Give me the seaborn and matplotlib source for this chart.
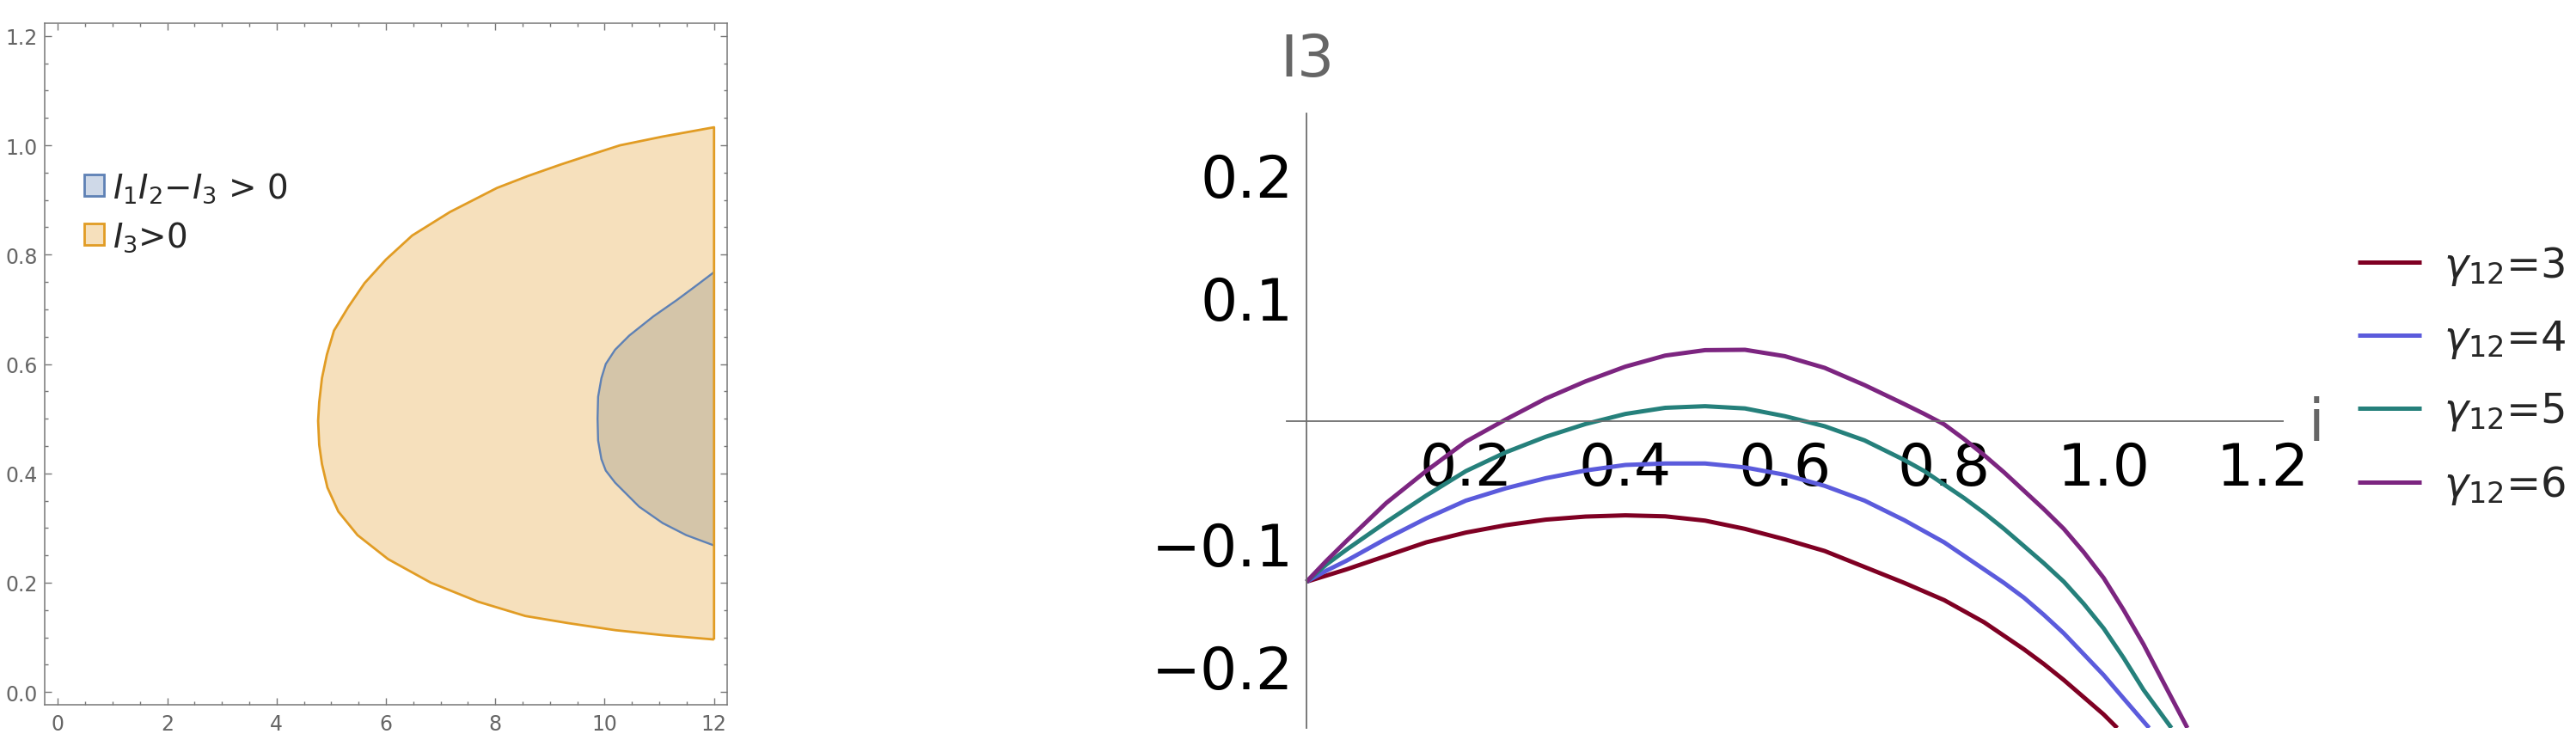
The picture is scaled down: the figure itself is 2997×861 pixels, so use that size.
import numpy as np
import pandas as pd
import matplotlib
matplotlib.use("Agg")
import matplotlib.pyplot as plt
from matplotlib.patches import Patch
import seaborn as sns

# ---------------- data: left panel (gamma12 on x, i on y) ----------------
orange_x = [12.0, 11.06, 10.20, 9.33, 8.55, 7.69, 6.82, 6.04, 5.48, 5.13, 4.93, 4.83, 4.78, 4.76,
            4.78, 4.83, 4.92, 5.05, 5.31, 5.61, 6.00, 6.48, 7.17, 8.03, 8.60, 9.20, 9.75, 10.28,
            11.06, 12.0]
orange_y = [0.096, 0.104, 0.113, 0.126, 0.139, 0.165, 0.200, 0.243, 0.287, 0.330, 0.374, 0.417, 0.452,
            0.496, 0.530, 0.574, 0.617, 0.661, 0.704, 0.748, 0.791, 0.835, 0.878, 0.922, 0.944, 0.965,
            0.983, 1.000, 1.016, 1.033]
blue_x = [12.0, 11.49, 11.06, 10.63, 10.19, 10.02, 9.94, 9.88, 9.87, 9.88, 9.94, 10.02, 10.19,
          10.45, 10.89, 11.32, 11.67, 12.0]
blue_y = [0.268, 0.287, 0.309, 0.339, 0.383, 0.405, 0.426, 0.460, 0.500, 0.540, 0.574, 0.600, 0.626,
          0.652, 0.687, 0.717, 0.743, 0.768]
left_labels = [r'$I_1I_2{-}I_3$ > 0', r'$I_3$>0']
left_xticks = [0, 2, 4, 6, 8, 10, 12]
left_xticklabels = ["0", "2", "4", "6", "8", "10", "12"]
left_yticks = [0.0, 0.2, 0.4, 0.6, 0.8, 1.0, 1.2]
left_yticklabels = ["0.0", "0.2", "0.4", "0.6", "0.8", "1.0", "1.2"]

# ---------------- data: right panel, I3 versus i ----------------
i_g3 = [0.0, 0.025, 0.05, 0.1, 0.15, 0.2, 0.25, 0.3, 0.35, 0.4, 0.45, 0.5, 0.55, 0.6, 0.65, 0.7,
        0.75, 0.775, 0.8, 0.825, 0.85, 0.875, 0.9, 0.925, 0.95, 0.975, 1.0, 1.017]
I3_g3 = [-0.131, -0.126, -0.121, -0.110, -0.099, -0.091, -0.085, -0.0805, -0.078, -0.077, -0.0778,
         -0.0813, -0.088, -0.0965, -0.106, -0.119, -0.132, -0.139, -0.146, -0.155, -0.164, -0.175,
         -0.186, -0.198, -0.211, -0.225, -0.239, -0.25]
i_g4 = [0.0, 0.025, 0.05, 0.1, 0.15, 0.2, 0.25, 0.3, 0.35, 0.4, 0.45, 0.5, 0.55, 0.6, 0.65, 0.7,
        0.75, 0.775, 0.8, 0.825, 0.85, 0.875, 0.9, 0.925, 0.95, 0.975, 1.0, 1.025, 1.057]
I3_g4 = [-0.131, -0.122, -0.114, -0.096, -0.0795, -0.065, -0.055, -0.0468, -0.0405, -0.036, -0.0348,
         -0.0348, -0.038, -0.044, -0.053, -0.065, -0.081, -0.090, -0.099, -0.110, -0.121, -0.132,
         -0.144, -0.158, -0.173, -0.190, -0.207, -0.226, -0.25]
i_g5 = [0.0, 0.025, 0.05, 0.1, 0.15, 0.2, 0.25, 0.3, 0.35, 0.4, 0.45, 0.5, 0.55, 0.6, 0.65, 0.7,
        0.75, 0.775, 0.8, 0.825, 0.85, 0.875, 0.9, 0.925, 0.95, 0.975, 1.0, 1.025, 1.05, 1.085]
I3_g5 = [-0.131, -0.117, -0.105, -0.0825, -0.061, -0.041, -0.0257, -0.0131, -0.0027, 0.0055, 0.0105,
         0.0118, 0.0100, 0.0037, -0.0045, -0.016, -0.032, -0.041, -0.052, -0.063, -0.075, -0.088,
         -0.102, -0.116, -0.131, -0.149, -0.169, -0.193, -0.219, -0.25]
i_g6 = [0.0, 0.025, 0.05, 0.1, 0.15, 0.2, 0.25, 0.3, 0.35, 0.4, 0.45, 0.5, 0.55, 0.6, 0.65, 0.7,
        0.75, 0.775, 0.8, 0.825, 0.85, 0.875, 0.9, 0.925, 0.95, 0.975, 1.0, 1.025, 1.05, 1.075, 1.105]
I3_g6 = [-0.131, -0.114, -0.098, -0.067, -0.041, -0.017, 0.001, 0.018, 0.032, 0.044, 0.053, 0.0574,
         0.0577, 0.0525, 0.043, 0.029, 0.0135, 0.0055, -0.003, -0.015, -0.028, -0.042, -0.057,
         -0.072, -0.088, -0.107, -0.128, -0.154, -0.182, -0.213, -0.25]
series_labels = [r'$\gamma_{12}$=3', r'$\gamma_{12}$=4', r'$\gamma_{12}$=5', r'$\gamma_{12}$=6']
series_colors = ['#7F0023', '#5B5BDC', '#25807B', '#7C2580']
right_xticks = [0.2, 0.4, 0.6, 0.8, 1.0, 1.2]
right_xticklabels = ["0.2", "0.4", "0.6", "0.8", "1.0", "1.2"]
right_yticks = [-0.2, -0.1, 0.1, 0.2]
right_yticklabels = ["\u22120.2", "\u22120.1", "0.1", "0.2"]

# ---------------- style ----------------
sns.set_theme(style="white")
plt.rcParams['font.family'] = ['DejaVu Sans']
plt.rcParams['mathtext.fontset'] = 'dejavusans'
plt.rcParams['axes.unicode_minus'] = True
plt.rcParams['lines.solid_joinstyle'] = 'round'
plt.rcParams['lines.solid_capstyle'] = 'butt'

W, H = 2997, 862
fig = plt.figure(figsize=(W / 100, H / 100), dpi=100)
fig.patch.set_facecolor('white')

# ---------------- left panel ----------------
axL = fig.add_axes([52 / W, 1 - 821.4 / H, (846 - 52) / W, (821.4 - 27.6) / H])
axL.set_facecolor('white')
ORANGE = '#E19C24'
BLUE = '#5E81B5'
axL.fill(orange_x, orange_y, facecolor='#F6E0BC', edgecolor='none', zorder=1)
axL.fill(blue_x, blue_y, facecolor='#D4C5A9', edgecolor='none', zorder=2)
sns.lineplot(x=blue_x, y=blue_y, sort=False, estimator=None, color=BLUE, linewidth=1.7, ax=axL, zorder=3)
sns.lineplot(x=orange_x + [orange_x[0]], y=orange_y + [orange_y[0]], sort=False, estimator=None,
             color=ORANGE, linewidth=2.0, ax=axL, zorder=4)
axL.set_xlim(-0.24, 12.24)
axL.set_ylim(-0.024, 1.224)
axL.set_xticks(left_xticks)
axL.set_xticklabels(left_xticklabels)
axL.set_yticks(left_yticks)
axL.set_yticklabels(left_yticklabels)
axL.set_xticks(np.arange(0, 12.01, 0.5), minor=True)
axL.set_yticks(np.arange(0, 1.2001, 0.05), minor=True)
axL.tick_params(which='both', direction='in', top=True, right=True, bottom=True, left=True,
                color='#777777', width=1.0, labelcolor='#666666', labelsize=17)
axL.tick_params(which='major', length=5.5)
axL.tick_params(which='minor', length=3)
axL.tick_params(axis='x', which='major', pad=7)
axL.tick_params(axis='y', which='major', pad=6)
for s in axL.spines.values():
    s.set_visible(True)
    s.set_color('#777777')
    s.set_linewidth(1.1)
axL.set_xlabel('')
axL.set_ylabel('')
handlesL = [Patch(facecolor='#CFD9E8', edgecolor=BLUE, linewidth=2.0),
            Patch(facecolor='#F6E0BC', edgecolor=ORANGE, linewidth=2.0)]
axL.legend(handlesL, left_labels, loc='center left', bbox_to_anchor=(0.058, 0.723), frameon=False,
           fontsize=28, handlelength=0.6, handleheight=0.6, handletextpad=0.25, labelspacing=0.45,
           borderpad=0, borderaxespad=0)

# ---------------- right panel ----------------
axR = fig.add_axes([1496.8 / W, 1 - 848 / H, (2656.2 - 1496.8) / W, (848 - 133) / H])
axR.set_facecolor('white')
frames = []
for xs, ys, lab in zip([i_g3, i_g4, i_g5, i_g6], [I3_g3, I3_g4, I3_g5, I3_g6], series_labels):
    frames.append(pd.DataFrame({'i': xs, 'I3': ys, 'gamma': lab}))
df = pd.concat(frames, ignore_index=True)
pal = dict(zip(series_labels, series_colors))
sns.lineplot(data=df, x='i', y='I3', hue='gamma', hue_order=series_labels, palette=pal,
             estimator=None, errorbar=None, linewidth=3.6, legend=False, ax=axR)
axR.set_xlim(-0.025, 1.225)
axR.set_ylim(-0.25, 0.25)
axR.spines['left'].set_position(('data', 0))
axR.spines['bottom'].set_position(('data', 0))
axR.spines['top'].set_visible(False)
axR.spines['right'].set_visible(False)
for s in ('left', 'bottom'):
    axR.spines[s].set_visible(True)
    axR.spines[s].set_color('#6E6E6E')
    axR.spines[s].set_linewidth(1.3)
axR.set_xticks(right_xticks)
axR.set_xticklabels(right_xticklabels)
axR.set_yticks(right_yticks)
axR.set_yticklabels(right_yticklabels)
xminor = [0.05, 0.1, 0.15, 0.25, 0.3, 0.35, 0.45, 0.5, 0.55, 0.65, 0.7, 0.75, 0.85, 0.9, 1.05, 1.1]
yminor = [-0.24, -0.22, -0.16, -0.14, -0.12, -0.08, -0.06, -0.04, -0.02,
          0.02, 0.04, 0.06, 0.08, 0.14, 0.16, 0.18, 0.22, 0.24]
axR.set_xticks(xminor, minor=True)
axR.set_yticks(yminor, minor=True)
axR.tick_params(which='both', direction='in', color='#6E6E6E', width=1.1, labelcolor='black',
                labelsize=49, top=False, right=False)
axR.tick_params(which='major', length=9)
axR.tick_params(which='minor', length=5)
axR.tick_params(axis='x', which='major', pad=16)
axR.tick_params(axis='y', which='major', pad=11)
axR.set_xlabel('')
axR.set_ylabel('')

fig.text(1521 / W, 1 - 70 / H, 'I3', ha='center', va='center', color='#666666', fontsize=49)
fig.text(2695 / W, 1 - 513 / H, 'i', ha='center', va='baseline', color='#666666', fontsize=48)

handlesR = axR.get_lines()[:4]
fig.legend(handlesR, series_labels, loc='center left', bbox_to_anchor=(2743 / W, 1 - 437.5 / H),
           bbox_transform=fig.transFigure, frameon=False, fontsize=34.5, handlelength=1.54,
           handletextpad=0.55, labelspacing=0.75, borderpad=0, borderaxespad=0)

fig.savefig('out.png', dpi=100, facecolor='white')
